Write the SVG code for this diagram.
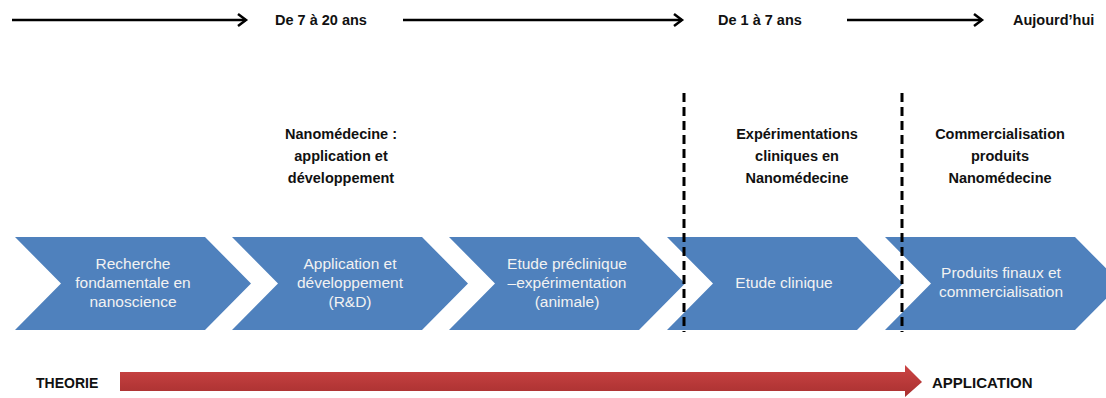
<svg xmlns="http://www.w3.org/2000/svg" width="1106" height="398" viewBox="0 0 1106 398">
<style>
.hd{font-family:"Liberation Sans",Arial,sans-serif;font-weight:bold;font-size:14.5px;fill:#111;text-anchor:middle}
.tl{font-family:"Liberation Sans",Arial,sans-serif;font-weight:bold;font-size:14.5px;fill:#111}
.ch{fill:#4f81bd}
.ct{font-family:"Liberation Sans",Arial,sans-serif;font-size:15.5px;fill:#f2f2f2;text-anchor:middle}
.ar{stroke:#000;stroke-width:2.5;fill:none}
.dash{stroke:#000;stroke-width:3;stroke-dasharray:9 5;fill:none}
</style>
<defs>
<marker id="ah" viewBox="0 0 10 14" refX="9" refY="7" markerWidth="10" markerHeight="14" markerUnits="userSpaceOnUse" orient="auto" overflow="visible">
<path d="M1,1 L9,7 L1,13" fill="none" stroke="#000" stroke-width="2.5"/>
</marker>
<linearGradient id="rg" x1="0" y1="0" x2="0" y2="1">
<stop offset="0" stop-color="#cc4444"/>
<stop offset="1" stop-color="#a83030"/>
</linearGradient>
</defs>
<g id="time-labels">
<text class="tl" x="275" y="25">De 7 à 20 ans</text>
<text class="tl" x="718" y="25">De 1 à 7 ans</text>
<text class="tl" x="1013" y="25">Aujourd’hui</text>
</g>
<g id="heading-rd">
<text class="hd" x="341" y="139">Nanomédecine :</text>
<text class="hd" x="341" y="161">application et</text>
<text class="hd" x="341" y="183">développement</text>
</g>
<g id="heading-clinical">
<text class="hd" x="797" y="139">Expérimentations</text>
<text class="hd" x="797" y="161">cliniques en</text>
<text class="hd" x="797" y="183">Nanomédecine</text>
</g>
<g id="heading-commercial">
<text class="hd" x="1000" y="139">Commercialisation</text>
<text class="hd" x="1000" y="161">produits</text>
<text class="hd" x="1000" y="183">Nanomédecine</text>
</g>
<g id="step1">
<path class="ch" d="M15,237 H205 L251,283.5 L205,330 H15 L61,283.5 Z"/>
<text class="ct" x="133" y="269">Recherche</text>
<text class="ct" x="133" y="288">fondamentale en</text>
<text class="ct" x="133" y="307">nanoscience</text>
</g>
<g id="step2">
<path class="ch" d="M232,237 H422 L468,283.5 L422,330 H232 L278,283.5 Z"/>
<text class="ct" x="350" y="269">Application et</text>
<text class="ct" x="350" y="288">développement</text>
<text class="ct" x="350" y="307">(R&amp;D)</text>
</g>
<g id="step3">
<path class="ch" d="M449,237 H639 L685,283.5 L639,330 H449 L495,283.5 Z"/>
<text class="ct" x="567" y="269">Etude préclinique</text>
<text class="ct" x="567" y="288">–expérimentation</text>
<text class="ct" x="567" y="307">(animale)</text>
</g>
<g id="step4">
<path class="ch" d="M667,237 H857 L903,283.5 L857,330 H667 L713,283.5 Z"/>
<text class="ct" x="784" y="288">Etude clinique</text>
</g>
<g id="step5">
<path class="ch" d="M885,237 H1075 L1121,283.5 L1075,330 H885 L931,283.5 Z"/>
<text class="ct" x="1001" y="278">Produits finaux et</text>
<text class="ct" x="1001" y="297">commercialisation</text>
</g>
<g id="connectors">
<path class="ar" d="M12,20 H246" marker-end="url(#ah)"/>
<path class="ar" d="M403,20 H682" marker-end="url(#ah)"/>
<path class="ar" d="M847,20 H982" marker-end="url(#ah)"/>
<path class="dash" d="M684,93 V332"/>
<path class="dash" d="M902,93 V332"/>
</g>
<g id="axis">
<path d="M120,372 H905 V365 L922,382 L905,397 V391 H120 Z" fill="url(#rg)"/>
<text class="tl" x="36" y="388" style="font-size:14px">THEORIE</text>
<text class="tl" x="932" y="388" style="font-size:15px">APPLICATION</text>
</g>
</svg>
